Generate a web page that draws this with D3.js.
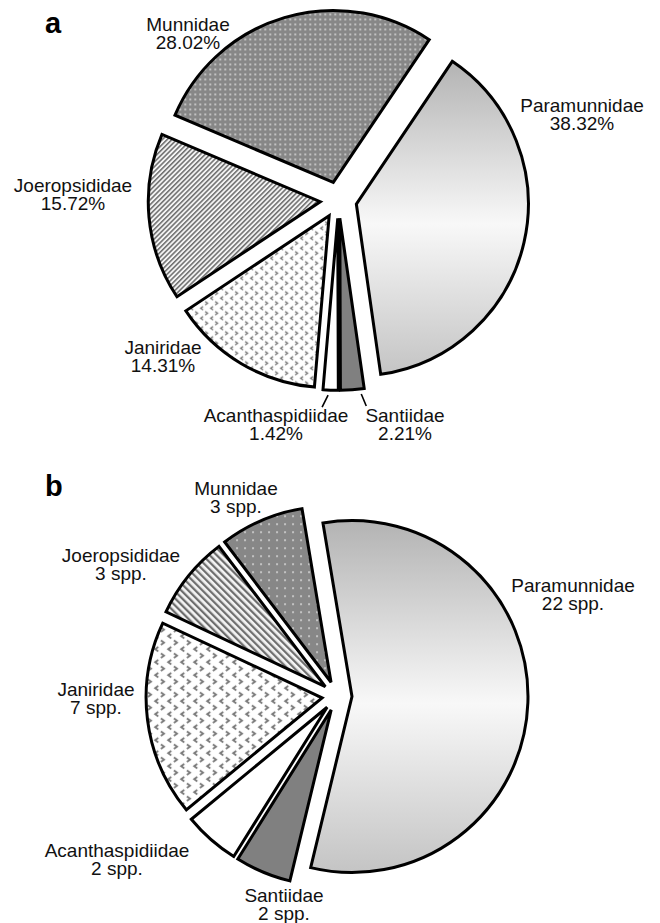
<!DOCTYPE html>
<html><head><meta charset="utf-8">
<script src="https://cdn.jsdelivr.net/npm/d3@7"></script>
<style>body{margin:0;background:#fff} svg{display:block}</style>
</head><body>
<svg id="chart" width="660" height="923"></svg>
<script>
// ---------- data ----------
const families = ["Paramunnidae", "Santiidae", "Acanthaspidiidae", "Janiridae", "Joeropsididae", "Munnidae"];
const percentA = [38.32, 2.21, 1.42, 14.31, 15.72, 28.02];
const speciesB = [22, 2, 2, 7, 3, 3];
const panelLetters = ["a", "b"];

// ---------- layout ----------
const deg = Math.PI / 180;
const panels = [
  { id: "a", values: percentA, fmt: v => d3.format(".2f")(v) + "%",
    cx: 338.5, cy: 200, r: 172, explode: 18.3, start: 33.9 * deg,
    letter: [45, 33],
    labels: { Munnidae: [188, 31], Paramunnidae: [582, 112], Joeropsididae: [73, 192],
              Janiridae: [163, 354], Acanthaspidiidae: [276, 422], Santiidae: [405, 422] },
    leaders: [ { family: "Acanthaspidiidae", frac: 0.65, dx: -6, dy: 12 },
               { family: "Santiidae", frac: 0.15, dx: 5, dy: 12 } ],
    dotTile: 5, hatch: 3.4, hatchRot: 45, chevScale: 1 },
  { id: "b", values: speciesB, fmt: v => v + " spp.",
    cx: 337, cy: 696, r: 176, explode: 15, start: -9.5 * deg,
    letter: [45, 496],
    labels: { Munnidae: [236, 495], Paramunnidae: [573, 592], Joeropsididae: [121, 562],
              Janiridae: [96, 696], Acanthaspidiidae: [117, 857], Santiidae: [284, 902] },
    leaders: [],
    dotTile: 8, hatch: 5, hatchRot: -45, chevScale: 1.3 }
];
const lineGap = 18;
const font = "'Liberation Sans', Arial, sans-serif";

const svg = d3.select("#chart");
const defs = svg.append("defs");

function buildDefs(p) {
  // Paramunnidae gradient
  const gr = defs.append("linearGradient").attr("id", "grad-" + p.id)
    .attr("x1", 0).attr("y1", 0).attr("x2", 0).attr("y2", 1);
  [[0, "#b3b3b3"], [0.52, "#f8f8f8"], [1, "#c4c4c4"]].forEach(([o, c]) =>
    gr.append("stop").attr("offset", o).attr("stop-color", c));

  // Munnidae dotted grey
  const t = p.dotTile;
  const dp = defs.append("pattern").attr("id", "dots-" + p.id)
    .attr("patternUnits", "userSpaceOnUse").attr("width", t).attr("height", t);
  dp.append("rect").attr("width", t).attr("height", t).attr("fill", "#878787");
  dp.append("rect").attr("x", 1).attr("y", 1).attr("width", 2).attr("height", 2).attr("fill", "#c2c2c2");

  // Joeropsididae hatch
  const h = p.hatch;
  const hp = defs.append("pattern").attr("id", "hatch-" + p.id)
    .attr("patternUnits", "userSpaceOnUse").attr("width", h).attr("height", 10)
    .attr("patternTransform", `rotate(${p.hatchRot})`);
  hp.append("rect").attr("width", h).attr("height", 10).attr("fill", "#f4f4f4");
  hp.append("rect").attr("width", h * 0.45).attr("height", 10).attr("fill", "#6e6e6e");

  // Janiridae chevrons
  const cp = defs.append("pattern").attr("id", "chev-" + p.id)
    .attr("patternUnits", "userSpaceOnUse").attr("width", 10).attr("height", 10)
    .attr("patternTransform", `scale(${p.chevScale})`);
  cp.append("rect").attr("width", 10).attr("height", 10).attr("fill", "#fff");
  cp.append("path").attr("d", "M4,0.8L1.6,2.5L4,4.2M6,5.8L8.4,7.5L6,9.2")
    .attr("fill", "none").attr("stroke", "#777").attr("stroke-width", 1.4);
}

function fillFor(p, fam) {
  switch (fam) {
    case "Paramunnidae": return `url(#grad-${p.id})`;
    case "Santiidae": return "#808080";
    case "Acanthaspidiidae": return "#ffffff";
    case "Janiridae": return `url(#chev-${p.id})`;
    case "Joeropsididae": return `url(#hatch-${p.id})`;
    case "Munnidae": return `url(#dots-${p.id})`;
  }
}

panels.forEach((p, pi) => {
  buildDefs(p);
  const data = families.map((f, i) => ({ family: f, value: p.values[i] }));
  const pie = d3.pie().sort(null).value(d => d.value)
    .startAngle(p.start).endAngle(p.start + 2 * Math.PI);
  const arcs = pie(data);
  const arc = d3.arc().innerRadius(0).outerRadius(p.r);
  const off = d => { const m = (d.startAngle + d.endAngle) / 2;
    return [p.explode * Math.sin(m), -p.explode * Math.cos(m)]; };

  const g = svg.append("g").attr("transform", `translate(${p.cx},${p.cy})`);
  g.selectAll("path.slice").data(arcs).join("path")
    .attr("class", "slice")
    .attr("transform", d => `translate(${off(d)})`)
    .attr("d", arc)
    .attr("fill", d => fillFor(p, d.data.family))
    .attr("stroke", "#000").attr("stroke-width", 3)
    .attr("stroke-linejoin", "miter");

  // leader lines
  p.leaders.forEach(l => {
    const d = arcs.find(a => a.data.family === l.family);
    const o = off(d);
    const ang = d.startAngle + l.frac * (d.endAngle - d.startAngle);
    const x0 = o[0] + (p.r + 5) * Math.sin(ang), y0 = o[1] - (p.r + 5) * Math.cos(ang);
    g.append("line").attr("x1", x0).attr("y1", y0).attr("x2", x0 + l.dx).attr("y2", y0 + l.dy)
      .attr("stroke", "#000").attr("stroke-width", 1.6);
  });

  // labels
  arcs.forEach(d => {
    const pos = p.labels[d.data.family];
    const t = svg.append("text").attr("text-anchor", "middle")
      .attr("font-family", font).attr("font-size", 19).attr("fill", "#111");
    t.append("tspan").attr("x", pos[0]).attr("y", pos[1]).text(d.data.family);
    t.append("tspan").attr("x", pos[0]).attr("y", pos[1] + lineGap).text(p.fmt(d.data.value));
  });

  svg.append("text").attr("x", p.letter[0]).attr("y", p.letter[1])
    .attr("font-family", font).attr("font-weight", "bold").attr("font-size", 29)
    .attr("fill", "#000").text(panelLetters[pi]);
});
</script>
</body></html>
